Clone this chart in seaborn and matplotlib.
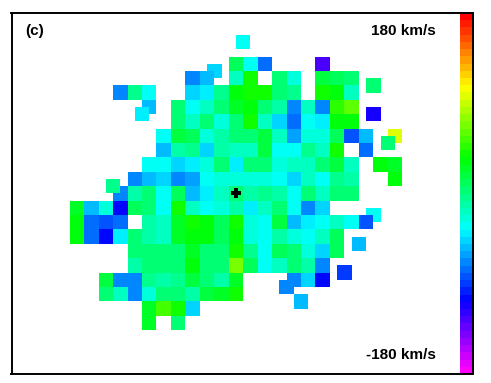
""" Velocity map, panel (c). """
import numpy as np
import seaborn as sns; sns.set_theme(style="white")
import matplotlib.pyplot as plt
from matplotlib.colors import ListedColormap, hsv_to_rgb

N = np.nan

# line-of-sight velocity per spaxel (km/s), rows run top to bottom
r00 = [N,N,N,N,N,N,N,N,N,N,N,12,-36,-78,N,N,N,-126,N,N,N,N,N]
r01 = [N,N,N,N,N,N,N,N,-66,-54,N,-18,42,N,0,-26,N,18,12,0,N,N,N]
r02 = [N,N,N,-66,-6,-30,N,N,-48,-42,-6,30,42,36,6,-6,N,38,30,-18,N,N,N]
r03 = [N,N,N,N,N,-54,N,6,-36,-18,0,26,34,0,-12,-66,-18,-72,48,60,N,N,N]
r04 = [N,N,N,N,N,N,N,6,-18,0,-24,6,36,-18,-48,-74,-36,-42,30,30,N,N,N]
r05 = [N,N,N,N,N,N,-34,18,12,-24,-12,6,0,18,-18,-60,-24,-24,12,-86,-54,N,96]
r06 = [N,N,N,N,N,N,-54,-12,-6,-44,-12,-18,-18,18,-36,-36,-6,-18,36,N,-78,N,N]
r07 = [N,N,N,N,N,-30,-36,-50,-42,-26,6,-40,6,0,-24,-18,-18,6,18,-18,N,30,24]
r08 = [N,N,N,N,-66,-54,-48,-72,-58,-36,-22,-22,-22,-22,-30,-48,-18,-34,-6,-10,N,N,30]
r09 = [N,N,N,-66,-12,6,-30,12,-54,-38,-18,0,-12,-6,-14,-30,0,-18,0,0,N,N,N]
r10 = [26,-54,-26,-108,12,6,-30,36,-18,-36,-24,-12,-42,-18,0,-36,-66,-48,N,N,N,N,N]
r11 = [30,-78,-82,-74,N,-12,-18,26,38,34,12,36,-24,-30,18,-54,-42,-36,-18,-36,-82,N,N]
r12 = [30,-78,-108,-42,6,-12,-16,24,30,30,12,30,-26,-30,-12,-24,-34,-18,12,N,N,N,N]
r13 = [N,N,N,N,6,0,0,2,24,0,6,36,-6,-34,12,0,-26,-50,12,N,N,N,N]
r14 = [N,N,N,N,-12,0,0,0,30,0,6,66,12,-34,-18,0,-12,-66,N,N,N,N,N]
r15 = [N,N,18,-66,-70,-6,-12,-6,18,6,-12,24,N,N,N,-66,-44,-102,N,N,N,N,N]
r16 = [N,N,6,-18,-66,-24,0,6,-12,18,24,36,N,N,N,N,N,N,N,N,N,N,N]
r17 = [N,N,N,N,N,26,54,36,-48,N,N,N,N,N,N,N,N,N,N,N,N,N,N]
r18 = [N,N,N,N,N,24,N,0,N,N,N,N,N,N,N,N,N,N,N,N,N,N,N]
rows = [r00, r01, r02, r03, r04, r05, r06, r07, r08, r09,
        r10, r11, r12, r13, r14, r15, r16, r17, r18]

# spaxels from the dithered pointing, half a cell off the main grid
under_cols = [11.5, 9.5, 20.5, 20.5, 20.5, 19.5, 18.5, 14.5, 15.5]
under_rows = [-1.5, 0.5, 1.5, 3.5, 10.5, 12.5, 14.5, 15.5, 16.5]
under_vals = [-32, -50, 6, -114, -36, -54, -92, -72, -54]

# these ones sit on top of the main grid
over_cols = [4.5, 21.5, 2.5]
over_rows = [3.5, 5.5, 8.5]
over_vals = [-42, 6, -6]

centre_col = 11.5
centre_row = 9.5
top_label = "180 km/s"
bottom_label = "-180 km/s"
panel_label = "(c)"

# half-cell grid: 46 columns, 41 rows, row 0 is main row -1.5
fine = np.full((41, 46), np.nan)
for c, r, v in zip(under_cols, under_rows, under_vals):
    i, j = int(2 * (r + 1.5)), int(2 * c)
    fine[i:i+2, j:j+2] = v
for r, row in enumerate(rows):
    for c, v in enumerate(row):
        if not np.isnan(v):
            fine[2*r+3:2*r+5, 2*c:2*c+2] = v
for c, r, v in zip(over_cols, over_rows, over_vals):
    i, j = int(2 * (r + 1.5)), int(2 * c)
    fine[i:i+2, j:j+2] = v

# hue runs magenta to red in 50 steps
hues = np.linspace(300, 0, 50) / 360
cmap = ListedColormap(hsv_to_rgb(np.column_stack([hues, np.ones(50), np.ones(50)])))

W, H = 491, 383
fig = plt.figure(figsize=(W / 100, H / 100), dpi=100)
ax = fig.add_axes([11.5 / W, 1 - 374 / H, (460 - 11.5) / W, (374 - 13) / H])
cax = fig.add_axes([460 / W, 1 - 374 / H, 13 / W, (374 - 13) / H])

sns.heatmap(fine, ax=ax, cmap=cmap, vmin=-180, vmax=180, cbar_ax=cax,
            xticklabels=False, yticklabels=False, linewidths=0)
ax.set_xlim(-8.06, 54.0)
ax.set_ylim(47.08, -3.06)
ax.scatter([2 * centre_col], [2 * (centre_row + 1.5)], marker="P", s=62, c="black", linewidths=0)

for s in ax.spines.values():
    s.set_visible(True)
    s.set_color("black")
    s.set_linewidth(1.4)
ax.spines["right"].set_visible(False)

cbar = ax.collections[0].colorbar
cbar.set_ticks([])
cbar.outline.set_visible(False)
for name in ["top", "right", "bottom"]:
    cax.spines[name].set_visible(True)
    cax.spines[name].set_color("black")
    cax.spines[name].set_linewidth(1.4)

font = {"family": "Liberation Sans", "fontweight": "bold", "fontsize": 11, "color": "black"}
fig.text(25 / W, 1 - 31 / H, panel_label, ha="left", va="center", **font)
fig.text(436 / W, 1 - 31 / H, top_label, ha="right", va="center", **font)
fig.text(436 / W, 1 - 355 / H, bottom_label, ha="right", va="center", **font)

fig.savefig("out.png", dpi=100)
